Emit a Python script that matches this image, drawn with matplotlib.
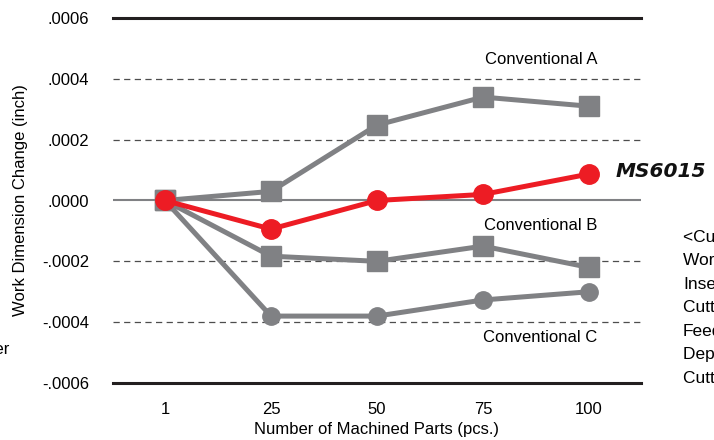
import matplotlib.pyplot as plt

# ----- Data -----
parts = ['1', '25', '50', '75', '100']
conv_a = [0.0, 0.00003, 0.000248, 0.00034, 0.00031]
ms6015 = [0.0, -0.000094, 0.0, 0.00002, 0.000087]
conv_b = [0.0, -0.000183, -0.0002, -0.00015, -0.00022]
conv_c = [0.0, -0.00038, -0.00038, -0.000327, -0.0003]
yticks = [0.0006, 0.0004, 0.0002, 0.0, -0.0002, -0.0004, -0.0006]
ytick_labels = ['.0006', '.0004', '.0002', '.0000', '-.0002', '-.0004', '-.0006']
conditions = ['<Cutting Conditions>', 'Work Material', 'Insert', 'Cutting Speed',
              'Feed', 'Depth of Cut', 'Cutting Mode']

plt.rcParams['font.family'] = ['Liberation Sans', 'DejaVu Sans']

gray = '#808184'
red = '#ed1c24'
dark = '#231f20'

fig = plt.figure(figsize=(7.14, 4.4), dpi=100)
ax = fig.add_axes([113 / 714, 1 - 383 / 440, (641 - 113) / 714, (383 - 18) / 440])

x = list(range(len(parts)))

# -- Grid lines --
ax.axhline(0.0006, color=dark, lw=2.2, zorder=1, clip_on=False)
ax.axhline(-0.0006, color=dark, lw=2.2, zorder=1, clip_on=False)
ax.axhline(0.0, color=gray, lw=1.5, zorder=1)
for yv in [0.0004, 0.0002, -0.0002, -0.0004]:
    ax.axhline(yv, color='#4d4d4d', lw=0.9, ls=(0, (5, 3.5)), zorder=1)

# -- Series --
ax.plot(x, conv_a, color=gray, lw=3.6, marker='s', ms=14, zorder=3)
ax.plot(x, conv_b, color=gray, lw=3.6, marker='s', ms=14, zorder=3)
ax.plot(x, conv_c, color=gray, lw=3.6, marker='o', ms=12.5, zorder=3)
ax.plot(x, ms6015, color=red, lw=3.6, marker='o', ms=14, zorder=4)

# -- Labels on chart --
ax.text(3.55, 0.000465, 'Conventional A', fontsize=12, ha='center', va='center')
ax.text(3.54, -0.000082, 'Conventional B', fontsize=12, ha='center', va='center')
ax.text(3.54, -0.000452, 'Conventional C', fontsize=12, ha='center', va='center')
fig.text(616 / 714, 1 - 171 / 440, 'MS6015', fontsize=14.5, fontweight='bold',
         fontstyle='italic', family='DejaVu Sans', ha='left', va='center', color='#111111')

# -- Clipped side texts --
for i, s in enumerate(conditions):
    fig.text(683 / 714, 1 - (237 + i * 23.5) / 440, s, fontsize=12.5, ha='left', va='center')
fig.text(10 / 714, 1 - 350 / 440, 'Holder', fontsize=12, ha='right', va='center')

# -- Axes aesthetics --
ax.set_xlim(-0.49, 4.49)
ax.set_ylim(-0.0006, 0.0006)
ax.set_xticks(x)
ax.set_xticklabels(parts, fontsize=12)
ax.set_yticks(yticks)
ax.set_yticklabels(ytick_labels, fontsize=12)
ax.tick_params(axis='x', length=0, pad=14)
ax.tick_params(axis='y', length=0, pad=17)
for sp in ax.spines.values():
    sp.set_visible(False)
ax.set_xlabel('Number of Machined Parts (pcs.)', fontsize=12, labelpad=3)
ax.set_ylabel('Work Dimension Change (inch)', fontsize=12, labelpad=10)

plt.savefig('out.png', dpi=100)
